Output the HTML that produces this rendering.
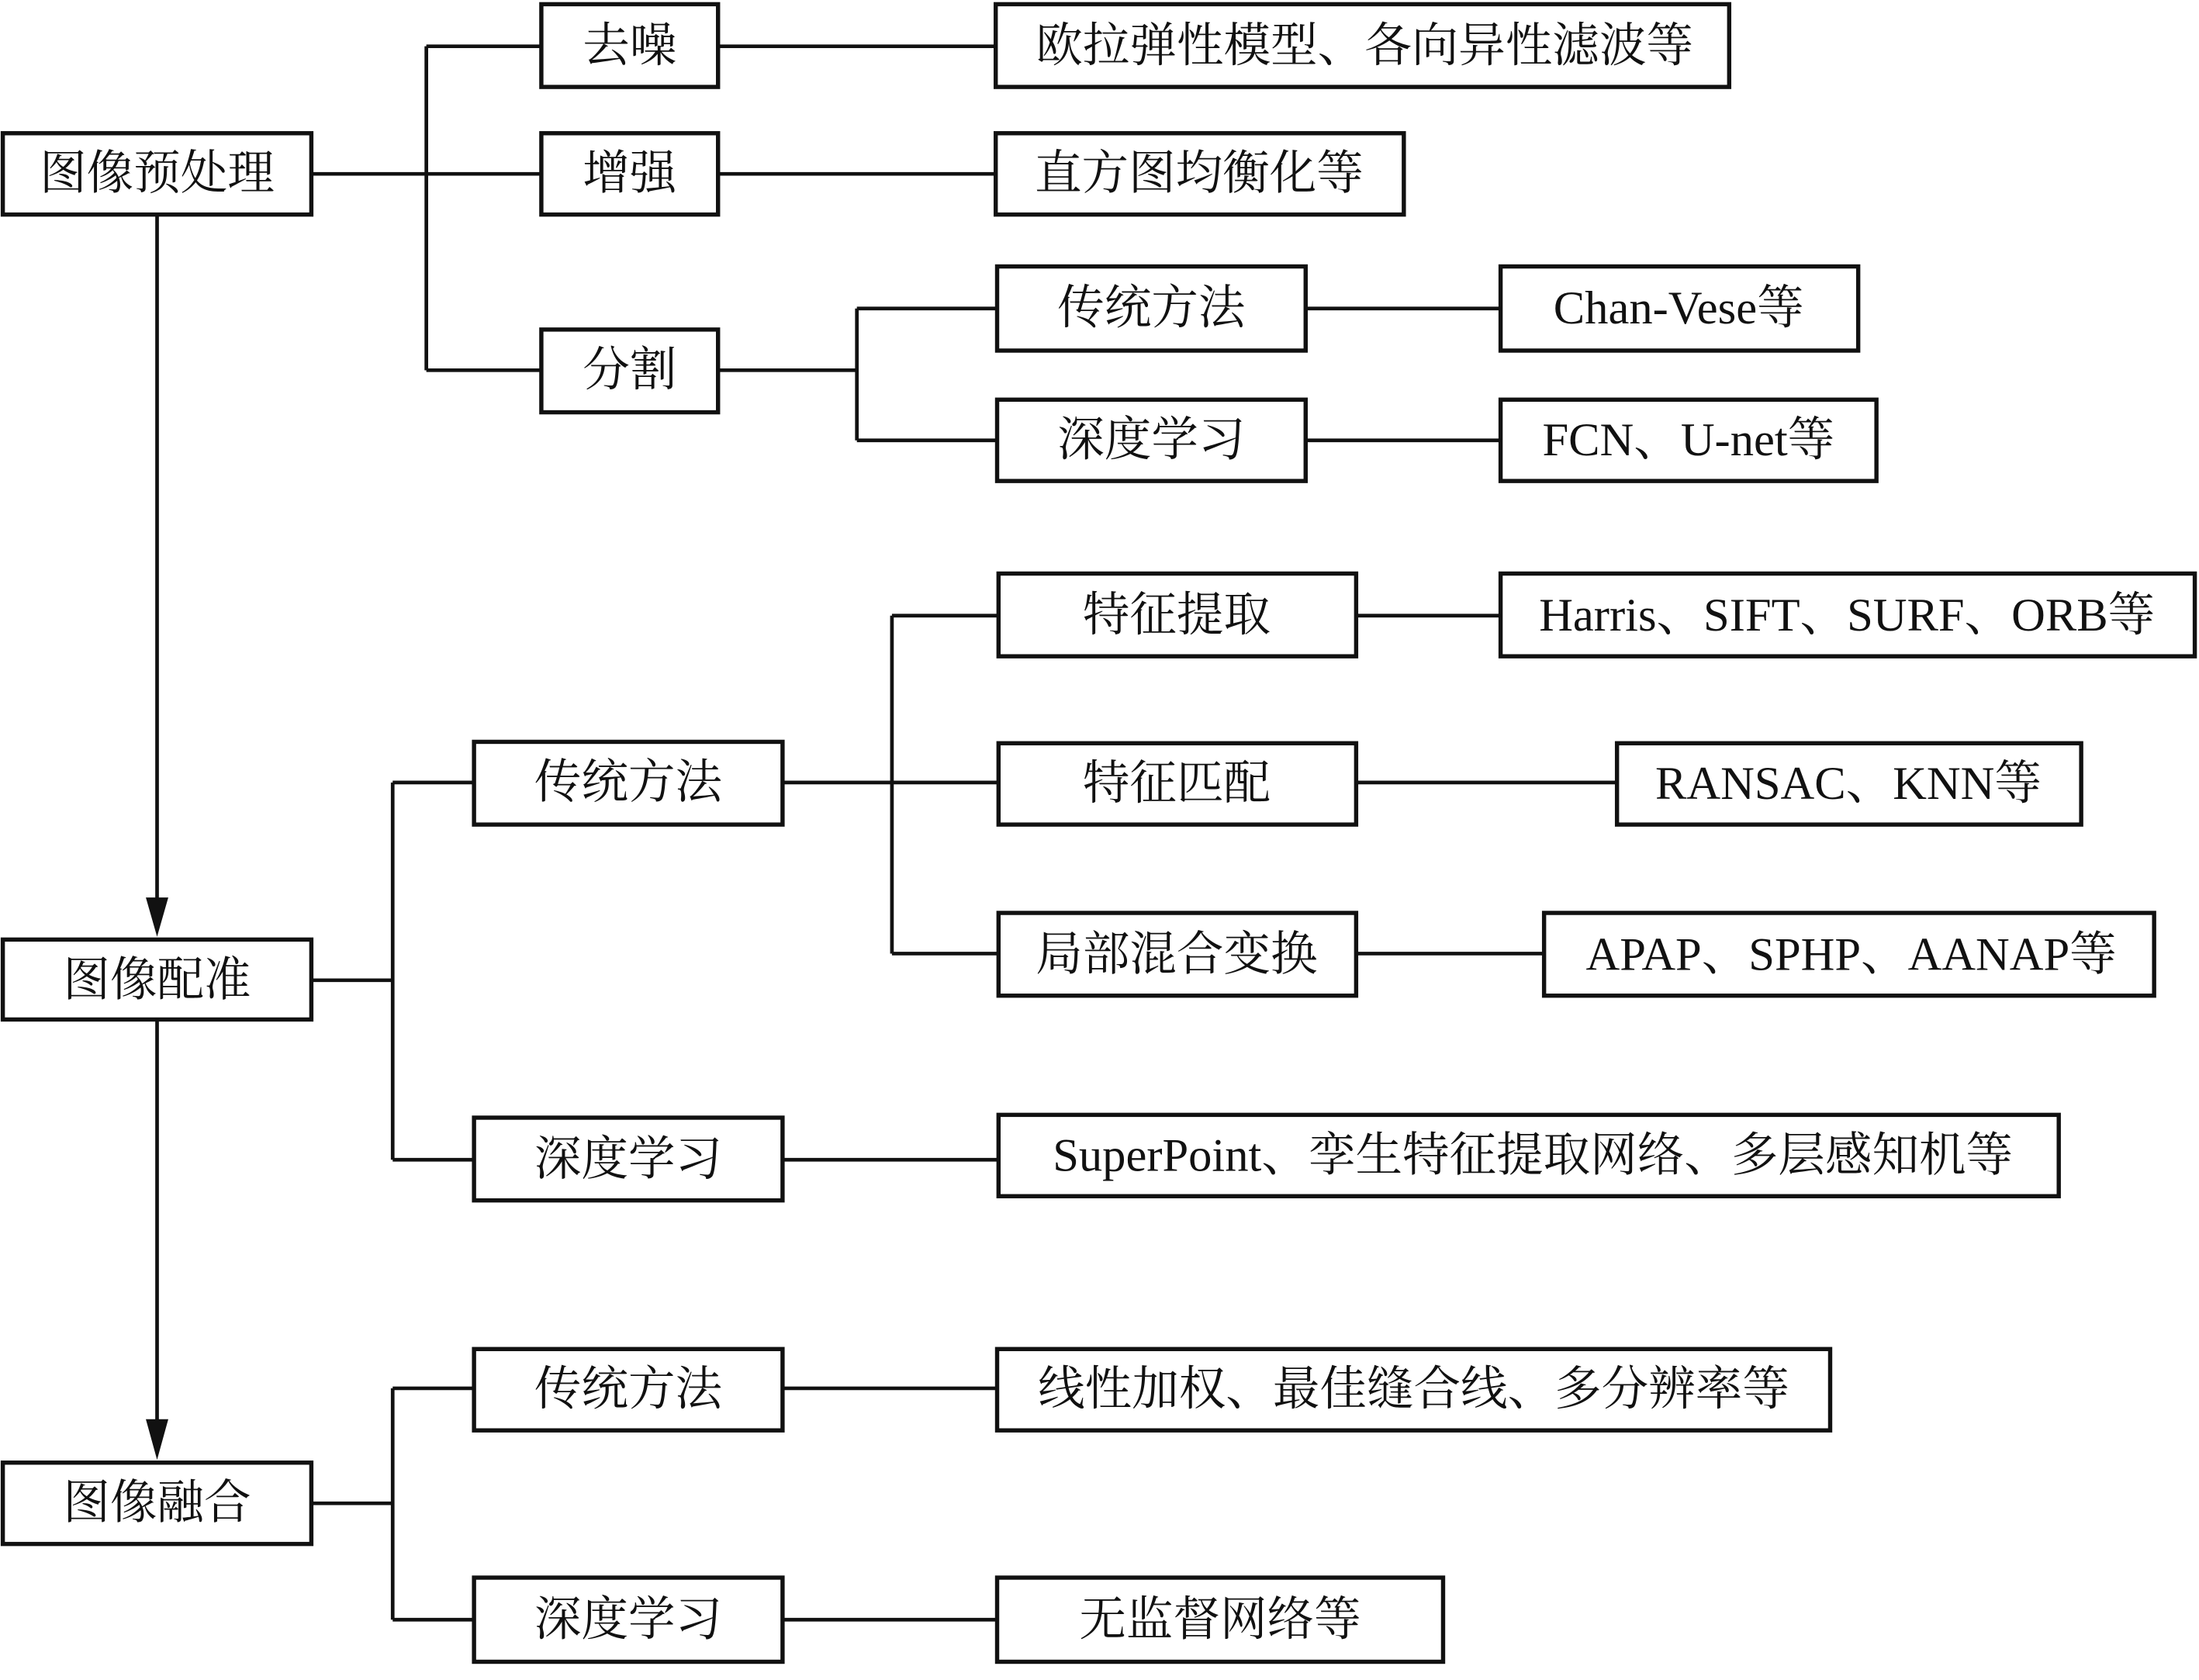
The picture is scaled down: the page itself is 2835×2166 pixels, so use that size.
<!DOCTYPE html>
<html><head><meta charset="utf-8"><style>
html,body{margin:0;padding:0;background:#fff;}
svg{display:block;}
text{font-family:"Liberation Serif","Noto Serif CJK SC",serif;font-size:33.5px;fill:#111;text-anchor:middle;dominant-baseline:central;}
rect{fill:#fff;stroke:#111;stroke-width:3;}
.l{stroke:#111;stroke-width:2.6;fill:none;}
</style></head><body>
<svg width="2835" height="2166" viewBox="0 0 1568 1198" preserveAspectRatio="none" xmlns="http://www.w3.org/2000/svg">
<path class="l" d="M222 124H386M304 33V264M304 33H386M304 264H386"/>
<path class="l" d="M512 33H710M512 124H710"/>
<path class="l" d="M512 264H611M611 220V314M611 220H711M611 314H711"/>
<path class="l" d="M931 220H1070M931 314H1070"/>
<path class="l" d="M112 153V645"/>
<polygon points="104,640 120,640 112,668" fill="#111"/>
<path class="l" d="M112 727V1015"/>
<polygon points="104,1012 120,1012 112,1041" fill="#111"/>
<path class="l" d="M222 699H280M280 558V827M280 558H338M280 827H338"/>
<path class="l" d="M558 558H712M636 439V680M636 439H712M636 680H712"/>
<path class="l" d="M967 439H1070M967 558H1153M967 680H1101"/>
<path class="l" d="M558 827H712"/>
<path class="l" d="M222 1072H280M280 990V1155M280 990H338M280 1155H338"/>
<path class="l" d="M558 990H711M558 1155H711"/>
<rect x="2" y="95" width="220" height="58"/><text x="112" y="124">图像预处理</text>
<rect x="386" y="3" width="126" height="59"/><text x="449" y="33">去噪</text>
<rect x="386" y="95" width="126" height="58"/><text x="449" y="124">增强</text>
<rect x="386" y="235" width="126" height="59"/><text x="449" y="264">分割</text>
<rect x="710" y="3" width="523" height="59"/><text x="973" y="33">欧拉弹性模型、各向异性滤波等</text>
<rect x="710" y="95" width="291" height="58"/><text x="855" y="124">直方图均衡化等</text>
<rect x="711" y="190" width="220" height="60"/><text x="821" y="220">传统方法</text>
<rect x="711" y="285" width="220" height="58"/><text x="821" y="314">深度学习</text>
<rect x="1070" y="190" width="255" height="60"/><text x="1197" y="220">Chan-Vese等</text>
<rect x="1070" y="285" width="268" height="58"/><text x="1204" y="314">FCN、U-net等</text>
<rect x="2" y="670" width="220" height="57"/><text x="112" y="699">图像配准</text>
<rect x="338" y="529" width="220" height="59"/><text x="448" y="558">传统方法</text>
<rect x="338" y="797" width="220" height="59"/><text x="448" y="827">深度学习</text>
<rect x="712" y="409" width="255" height="59"/><text x="839" y="439">特征提取</text>
<rect x="712" y="530" width="255" height="58"/><text x="839" y="559">特征匹配</text>
<rect x="712" y="651" width="255" height="59"/><text x="839" y="681">局部混合变换</text>
<rect x="1070" y="409" width="495" height="59"/><text x="1317" y="439">Harris、SIFT、SURF、ORB等</text>
<rect x="1153" y="530" width="331" height="58"/><text x="1318" y="559">RANSAC、KNN等</text>
<rect x="1101" y="651" width="435" height="59"/><text x="1320" y="681">APAP、SPHP、AANAP等</text>
<rect x="712" y="795" width="756" height="58"/><text x="1093" y="824">SuperPoint、孪生特征提取网络、多层感知机等</text>
<rect x="2" y="1043" width="220" height="58"/><text x="112" y="1072">图像融合</text>
<rect x="338" y="962" width="220" height="58"/><text x="448" y="991">传统方法</text>
<rect x="338" y="1125" width="220" height="60"/><text x="448" y="1155">深度学习</text>
<rect x="711" y="962" width="594" height="58"/><text x="1008" y="991">线性加权、最佳缝合线、多分辨率等</text>
<rect x="711" y="1125" width="318" height="60"/><text x="870" y="1155">无监督网络等</text>
</svg>
</body></html>
